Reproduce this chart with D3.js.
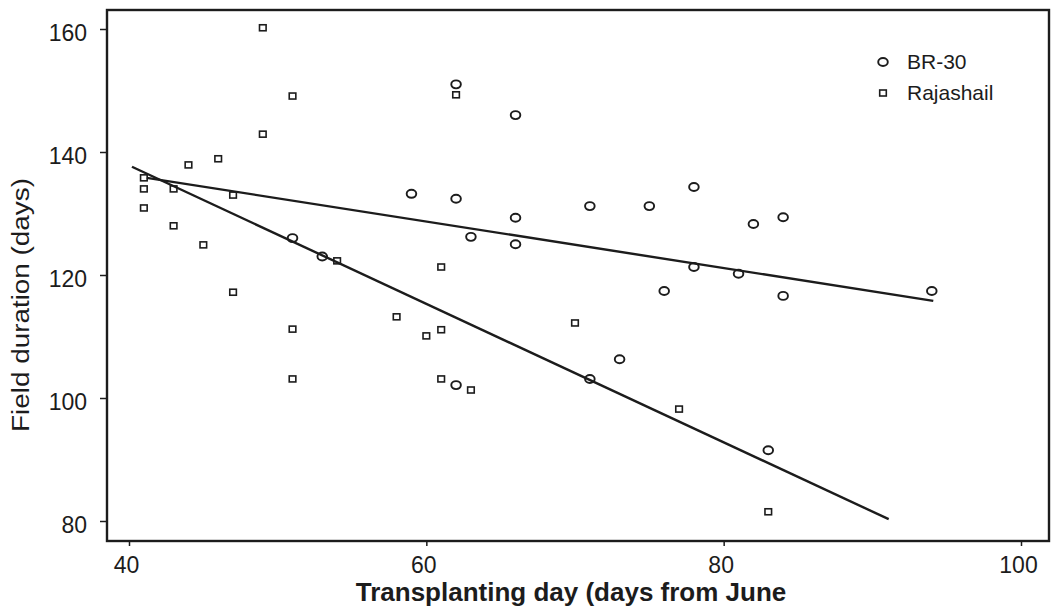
<!DOCTYPE html>
<html>
<head>
<meta charset="utf-8">
<script src="https://cdn.jsdelivr.net/npm/d3@7"></script>
<style>
  body { margin: 0; background: #fff; }
  svg { display: block; font-family: "Liberation Sans", Arial, sans-serif; }
</style>
</head>
<body>
<div id="chart"></div>
<script>
// tick values
const xTicks = [40, 60, 80, 100];
const yTicks = [80, 100, 120, 140, 160];

// BR-30 (circles)
const br30X = [51, 53, 62, 66, 59, 62, 66, 63, 66, 71, 75, 76, 78, 82, 84, 78, 81, 84, 94, 62, 73, 71, 83];
const br30Y = [126, 123, 151, 146, 133.2, 132.4, 129.3, 126.2, 125, 131.2, 131.2, 117.4, 134.3, 128.3, 129.4, 121.3, 120.2, 116.6, 117.4, 102.1, 106.3, 103.1, 91.5];

// Rajashail (squares)
const rajX = [49, 51, 49, 44, 46, 41, 41, 41, 43, 43, 45, 47, 47, 54, 51, 51, 62, 61, 58, 60, 61, 61, 63, 70, 77, 83];
const rajY = [160.2, 149.1, 142.9, 137.9, 138.9, 134, 130.9, 135.8, 134, 128, 124.9, 133, 117.2, 122.3, 111.2, 103.1, 149.3, 121.3, 113.2, 110.1, 111.1, 103.1, 101.3, 112.2, 98.2, 81.5];

// fitted lines, end points [x, y]
const br30Fit = [[41.2, 135.8], [94.1, 115.8]];
const rajFit = [[40.2, 137.6], [91.1, 80.3]];

const seriesNames = ["BR-30", "Rajashail"];

const width = 1055, height = 610;
const frame = { left: 107, right: 1049, top: 10, bottom: 541 };
const ink = "#1c1c1c";

const svg = d3.select("#chart").append("svg")
  .attr("width", width)
  .attr("height", height);

const x = d3.scaleLinear().domain([40, 100]).range([129, 1021]);
const y = d3.scaleLinear().domain([80, 160]).range([521, 29]);

// axes
const xAxis = d3.axisBottom(x).tickValues(xTicks).tickSize(5).tickPadding(11).tickSizeOuter(0);
const yAxis = d3.axisLeft(y).tickValues(yTicks).tickSize(7).tickPadding(13).tickSizeOuter(0);

const gx = svg.append("g")
  .attr("transform", `translate(0,${frame.bottom})`)
  .call(xAxis);
const gy = svg.append("g")
  .attr("transform", `translate(${frame.left},0)`)
  .call(yAxis);

[gx, gy].forEach(g => {
  g.select(".domain").remove();
  g.selectAll("line").attr("stroke", ink).attr("stroke-width", 1.5);
  g.selectAll("text")
    .attr("fill", ink)
    .attr("font-size", 23)
    .attr("font-family", "'Liberation Sans', Arial, sans-serif");
});
gx.selectAll("text").attr("dx", -3);
gy.selectAll("text").attr("dy", "0.5em");

// frame
svg.append("rect")
  .attr("x", frame.left)
  .attr("y", frame.top)
  .attr("width", frame.right - frame.left)
  .attr("height", frame.bottom - frame.top)
  .attr("fill", "none")
  .attr("stroke", ink)
  .attr("stroke-width", 2.4);

// fit lines
const line = d3.line().x(d => x(d[0])).y(d => y(d[1]));
[br30Fit, rajFit].forEach(pts => {
  svg.append("path")
    .attr("d", line(pts))
    .attr("fill", "none")
    .attr("stroke", ink)
    .attr("stroke-width", 2.4);
});

// points
const br30 = br30X.map((v, i) => ({ x: v, y: br30Y[i] }));
const raj = rajX.map((v, i) => ({ x: v, y: rajY[i] }));

svg.append("g")
  .selectAll("rect")
  .data(raj)
  .join("rect")
  .attr("x", d => x(d.x) - 3.3)
  .attr("y", d => y(d.y) - 3)
  .attr("width", 6.6)
  .attr("height", 6)
  .attr("fill", "none")
  .attr("stroke", ink)
  .attr("stroke-width", 1.6);

svg.append("g")
  .selectAll("ellipse")
  .data(br30)
  .join("ellipse")
  .attr("cx", d => x(d.x))
  .attr("cy", d => y(d.y))
  .attr("rx", 4.8)
  .attr("ry", 4)
  .attr("fill", "none")
  .attr("stroke", ink)
  .attr("stroke-width", 1.9);

// legend
const legend = svg.append("g").attr("transform", "translate(883,62)");
legend.append("ellipse")
  .attr("cx", 0).attr("cy", 0)
  .attr("rx", 4.8).attr("ry", 4)
  .attr("fill", "none").attr("stroke", ink).attr("stroke-width", 1.9);
legend.append("rect")
  .attr("x", -3.3).attr("y", 31 - 3)
  .attr("width", 6.6).attr("height", 6)
  .attr("fill", "none").attr("stroke", ink).attr("stroke-width", 1.6);
legend.selectAll("text")
  .data(seriesNames)
  .join("text")
  .attr("x", 24)
  .attr("y", (d, i) => i * 31 + 7)
  .attr("font-size", 21)
  .attr("fill", ink)
  .text(d => d);

// axis titles
svg.append("text")
  .attr("x", 571)
  .attr("y", 601)
  .attr("text-anchor", "middle")
  .attr("font-size", 26)
  .attr("font-weight", "bold")
  .attr("fill", ink)
  .text("Transplanting day (days from June");

svg.append("text")
  .attr("transform", "translate(29,305) rotate(-90)")
  .attr("text-anchor", "middle")
  .attr("font-size", 23)
  .attr("textLength", 254)
  .attr("lengthAdjust", "spacingAndGlyphs")
  .attr("fill", ink)
  .text("Field duration (days)");
</script>
</body>
</html>
